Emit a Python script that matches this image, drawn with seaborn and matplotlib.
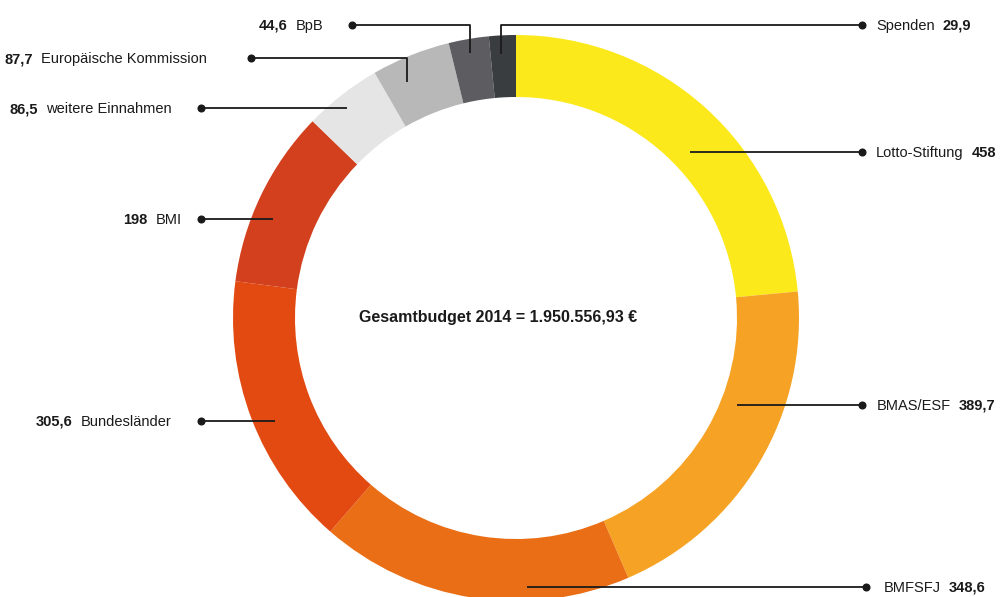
import matplotlib
matplotlib.use("Agg")
import matplotlib.pyplot as plt
import seaborn as sns

# Budget sources (thousand euro), clockwise from 12 o'clock
LABELS = ["Lotto-Stiftung", "BMAS/ESF", "BMFSFJ", "Bundesländer", "BMI",
          "weitere Einnahmen", "Europäische Kommission", "BpB", "Spenden"]
VALUES = [458, 389.7, 348.6, 305.6, 198, 86.5, 87.7, 44.6, 29.9]
VALUE_TEXT = ["458", "389,7", "348,6", "305,6", "198",
              "86,5", "87,7", "44,6", "29,9"]
COLORS = ["#FCE91C", "#F6A325", "#E96E16", "#E34A12", "#D2401E",
          "#E5E5E5", "#B8B8B8", "#5D5D61", "#3A3D3F"]
TITLE = "Gesamtbudget 2014 = 1.950.556,93 €"

# Leader layout in pixel coords: (side, text x, path from dot inward)
LEADERS = {
    "Lotto-Stiftung": ("right", 876, [(862, 152), (690, 152)]),
    "BMAS/ESF": ("right", 877, [(862, 405), (737, 405)]),
    "BMFSFJ": ("right", 884, [(866, 587), (527, 587)]),
    "Bundesländer": ("left", 171, [(201, 421), (275, 421)]),
    "BMI": ("left", 182, [(201, 219), (273, 219)]),
    "weitere Einnahmen": ("left", 172, [(201, 108), (347, 108)]),
    "Europäische Kommission": ("left", 207, [(251, 58), (407, 58), (407, 82)]),
    "BpB": ("left", 323, [(352, 25), (470, 25), (470, 53)]),
    "Spenden": ("right", 876, [(862, 25), (501, 25), (501, 54)]),
}

W, H = 1000, 597
CENTER = (516, 318)
R_OUT, R_IN = 283, 221
INK = "#1a1a1a"
FS = 10.5
GAP = 8
BASE = 5  # px from leader y down to text baseline

sns.set_theme(style="white")
plt.rcParams['font.family'] = ['Liberation Sans', 'DejaVu Sans']


def main():
    fig = plt.figure(figsize=(W / 100, H / 100), dpi=100)
    ax = fig.add_axes([0, 0, 1, 1])

    # y axis is inverted below, so counterclockwise in data = clockwise on screen
    ax.pie(VALUES, colors=COLORS, center=CENTER, radius=R_OUT,
           startangle=-90, counterclock=True,
           wedgeprops=dict(width=R_OUT - R_IN, linewidth=0))
    ax.set_xlim(0, W)
    ax.set_ylim(H, 0)
    ax.set_aspect("equal")
    ax.axis("off")

    ax.text(498, 322, TITLE, ha="center", va="baseline", fontsize=11.5,
            fontweight="bold", color=INK)

    renderer = fig.canvas.get_renderer()
    for label, vtxt in zip(LABELS, VALUE_TEXT):
        side, tx, path = LEADERS[label]
        xs, ys = zip(*path)
        ax.plot(xs, ys, color=INK, lw=1.3, solid_capstyle="butt")
        ax.plot(xs[0], ys[0], "o", color=INK, ms=4.8)
        y = ys[0] + BASE
        if side == "right":
            t = ax.text(tx, y, label, ha="left", va="baseline", fontsize=FS,
                        color=INK)
            w = t.get_window_extent(renderer).width
            ax.text(tx + w + GAP, y, vtxt, ha="left", va="baseline",
                    fontsize=FS, fontweight="bold", color=INK)
        else:
            t = ax.text(tx, y, label, ha="right", va="baseline", fontsize=FS,
                        color=INK)
            w = t.get_window_extent(renderer).width
            ax.text(tx - w - GAP, y, vtxt, ha="right", va="baseline",
                    fontsize=FS, fontweight="bold", color=INK)

    fig.savefig("out.png", dpi=100, facecolor="white")
    plt.close(fig)


if __name__ == '__main__':
    main()
